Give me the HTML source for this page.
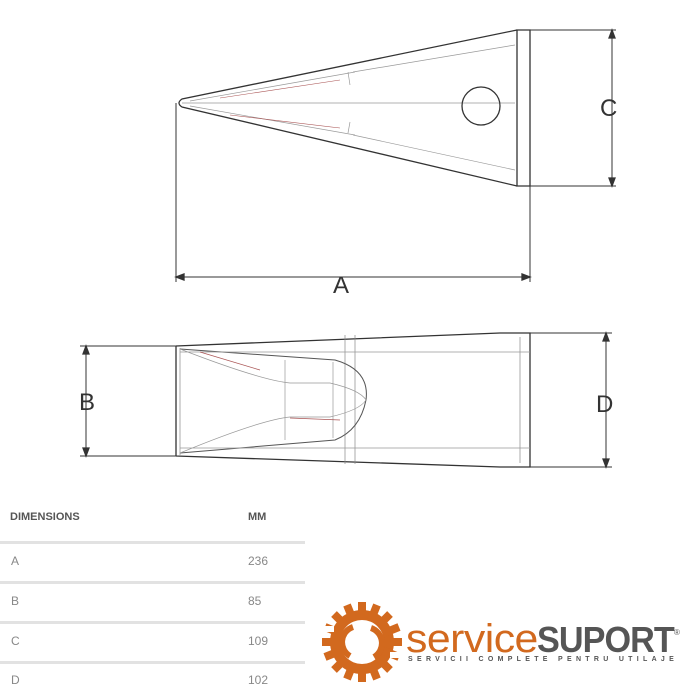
<!DOCTYPE html>
<html><head><meta charset="utf-8"><style>
body{margin:0;width:700px;height:700px;background:#fff;overflow:hidden;position:relative;font-family:"Liberation Sans",sans-serif}
.t{position:absolute;color:#888;font-size:12px}
.h{color:#555;font-weight:bold;font-size:11px}
.ln{position:absolute;left:0;width:305px;height:3px;background:#e2e2e2}
</style></head><body>
<svg width="700" height="700" style="position:absolute;left:0;top:0">
<g fill="none" stroke="#333" stroke-width="1.3">
<path d="M517,30 L182,99 Q176,103 182,107 L517,186"/>
<path d="M517,30 L530,30 L530,186 L517,186 Z" />
<path d="M182,103 L515,103" stroke="#999" stroke-width="0.8"/>
<path d="M190,101 L355,72 M190,106 L355,135 M348,72 L350,85 M348,133 L350,122 M353,72 L515,45 M353,135 L515,170" stroke="#999" stroke-width="0.7"/>
<path d="M220,98 L340,80 M230,115 L340,128" stroke="#a55" stroke-width="0.6"/>
<circle cx="481" cy="106" r="19" stroke-width="1.3"/>
<path d="M176,103 L176,282 M530,186 L530,282 M176,277 L530,277" stroke-width="1"/>
<path d="M176,277 l8,-3 v6z M530,277 l-8,-3 v6z" fill="#333"/>
<path d="M530,30 L616,30 M530,186 L616,186 M612,30 L612,186" stroke-width="1"/>
<path d="M612,30 l-3,8 h6z M612,186 l-3,-8 h6z" fill="#333"/>
<path d="M176,346 L176,456 M176,346 L500,333 L530,333 L530,467 L500,467 L176,456"/>
<path d="M180,348 L180,455 M520,337 L520,463 M345,335 L345,464 M355,335 L355,464" stroke="#888" stroke-width="0.7"/>
<path d="M180,349 L335,360 Q370,370 366,400 Q360,430 335,440 L180,453" stroke="#555" stroke-width="1"/>
<path d="M180,349 Q260,380 290,383 L330,383 Q360,390 366,400 M180,453 Q260,420 290,417 L330,417 Q360,410 366,400 M180,352 L530,352 M180,448 L530,448 M285,360 L285,440 M333,362 L333,438" stroke="#999" stroke-width="0.7"/>
<path d="M200,352 L260,370 M290,418 L340,420" stroke="#a55" stroke-width="0.7"/>
<path d="M80,346 L176,346 M80,456 L176,456 M86,346 L86,456" stroke-width="1"/>
<path d="M86,346 l-3,8 h6z M86,456 l-3,-8 h6z" fill="#333"/>
<path d="M530,333 L612,333 M530,467 L612,467 M606,333 L606,467" stroke-width="1"/>
<path d="M606,333 l-3,8 h6z M606,467 l-3,-8 h6z" fill="#333"/>
</g>
<g font-family="Liberation Sans" font-size="24" fill="#333">
<text x="333" y="293">A</text><text x="600" y="116">C</text>
<text x="79" y="410">B</text><text x="596" y="412">D</text>
</g>
<g fill="#d2691e">
<circle cx="362" cy="642" r="32"/>
<g stroke="#d2691e" stroke-width="8">
<path d="M362,602 v80 M322,642 h80 M334,614 l56,56 M390,614 l-56,56 M347,605 l30,74 M377,605 l-30,74 M325,627 l74,30 M325,657 l74,-30"/>
</g>
</g>
<circle cx="362" cy="642" r="22" fill="#fff"/>
<rect x="318" y="626" width="16" height="6" fill="#fff"/><rect x="390" y="652" width="16" height="6" fill="#fff"/>
<path d="M353,627 A16,16 0 0 0 350,656" stroke="#d2691e" stroke-width="6" fill="none"/>
<path d="M371,628 A16,16 0 0 1 374,657" stroke="#d2691e" stroke-width="6" fill="none"/>
</svg>
<div class="t h" style="left:10px;top:511px">DIMENSIONS</div>
<div class="t h" style="left:248px;top:511px">MM</div>
<div class="ln" style="top:541px"></div><div class="ln" style="top:581px"></div><div class="ln" style="top:621px"></div><div class="ln" style="top:661px"></div>
<div class="t" style="left:11px;top:554px">A</div><div class="t" style="left:248px;top:554px">236</div>
<div class="t" style="left:11px;top:594px">B</div><div class="t" style="left:248px;top:594px">85</div>
<div class="t" style="left:11px;top:634px">C</div><div class="t" style="left:248px;top:634px">109</div>
<div class="t" style="left:11px;top:673px">D</div><div class="t" style="left:248px;top:673px">102</div>
<div style="position:absolute;left:406px;top:619px;font-size:40px;color:#d2691e;letter-spacing:-0.5px;transform:scaleX(1.07);transform-origin:left;line-height:1">service</div>
<div style="position:absolute;left:537px;top:622px;font-size:36px;font-weight:bold;color:#555;letter-spacing:-1px;transform:scaleX(0.95);transform-origin:left;line-height:1">SUPORT</div>
<div style="position:absolute;left:674px;top:628px;font-size:8px;color:#555">®</div>
<div style="position:absolute;left:408px;top:656px;font-size:7px;font-weight:bold;color:#555;letter-spacing:4.3px;white-space:nowrap">SERVICII COMPLETE PENTRU UTILAJE</div>
</body></html>
